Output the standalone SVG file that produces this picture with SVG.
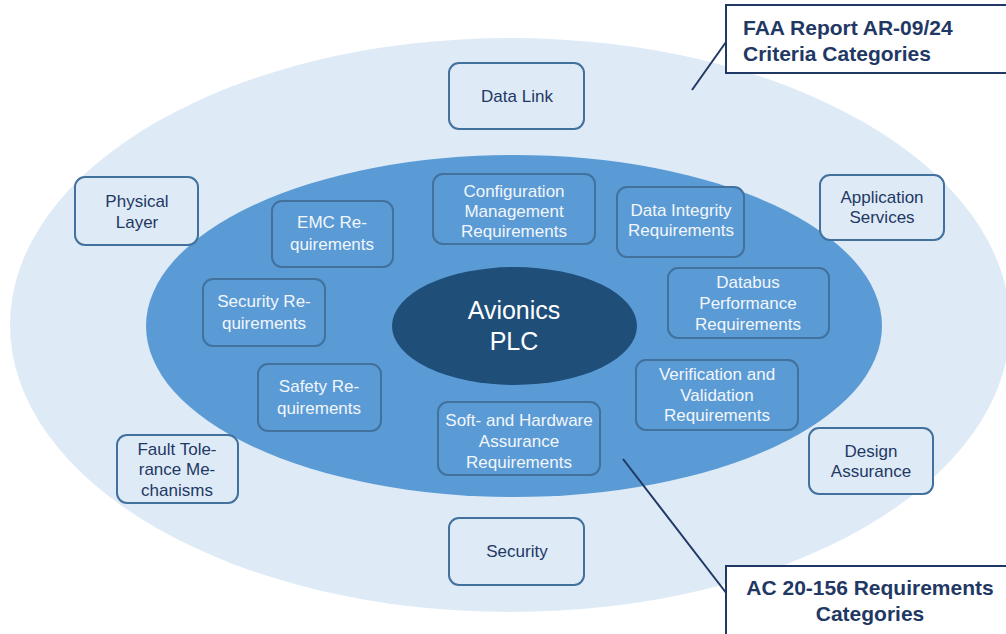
<svg xmlns="http://www.w3.org/2000/svg" width="1006" height="634" viewBox="0 0 1006 634">
  <style>
    text { font-family: "Liberation Sans", Arial, sans-serif; text-anchor: middle; }
    .outer rect { fill: #DEEBF7; stroke: #41719C; stroke-width: 2; }
    .outer text { fill: #1F3864; font-size: 17px; }
    .inner rect { fill: #5B9BD5; stroke: #41719C; stroke-width: 2; }
    .inner text { fill: #F2F6FB; font-size: 17px; }
    .label rect { fill: #FFFFFF; stroke: #1F3864; stroke-width: 2; }
    .label text { fill: #1F3864; font-size: 21px; font-weight: bold; }
    .leader { stroke: #1F3864; stroke-width: 2; fill: none; }
  </style>

  <rect width="1006" height="634" fill="#FFFFFF"/>

  <!-- ring backgrounds -->
  <ellipse id="ring-outer" cx="510" cy="325" rx="500" ry="287" fill="#DEEBF7"/>
  <ellipse id="ring-inner" cx="514" cy="326" rx="368" ry="171" fill="#5B9BD5"/>

  <!-- core -->
  <g id="core">
    <ellipse cx="514.5" cy="326" rx="122.5" ry="59" fill="#1F4E79"/>
    <text x="514" y="319" font-size="25" fill="#FFFFFF">Avionics</text>
    <text x="514" y="350" font-size="25" fill="#FFFFFF">PLC</text>
  </g>

  <!-- FAA AR-09/24 criteria categories (outer ring) -->
  <g id="data-link" class="outer">
    <rect x="449" y="63" width="135" height="66" rx="10"/>
    <text x="517" y="102">Data Link</text>
  </g>
  <g id="physical-layer" class="outer">
    <rect x="75" y="177" width="123" height="68" rx="10"/>
    <text x="137" y="207">Physical</text>
    <text x="137" y="228">Layer</text>
  </g>
  <g id="application-services" class="outer">
    <rect x="820" y="175" width="124" height="65" rx="10"/>
    <text x="882" y="203">Application</text>
    <text x="882" y="223">Services</text>
  </g>
  <g id="fault-tolerance" class="outer">
    <rect x="117" y="435" width="121" height="68" rx="10"/>
    <text x="177" y="455">Fault Tole-</text>
    <text x="177" y="475">rance Me-</text>
    <text x="177" y="496">chanisms</text>
  </g>
  <g id="design-assurance" class="outer">
    <rect x="809" y="428" width="124" height="66" rx="10"/>
    <text x="871" y="457">Design</text>
    <text x="871" y="477">Assurance</text>
  </g>
  <g id="security" class="outer">
    <rect x="449" y="518" width="135" height="67" rx="10"/>
    <text x="517" y="557">Security</text>
  </g>

  <!-- AC 20-156 requirements categories (inner ring) -->
  <g id="configuration-management" class="inner">
    <rect x="433" y="174" width="162" height="70" rx="10"/>
    <text x="514" y="197">Configuration</text>
    <text x="514" y="217">Management</text>
    <text x="514" y="237">Requirements</text>
  </g>
  <g id="data-integrity" class="inner">
    <rect x="617" y="187" width="127" height="70" rx="10"/>
    <text x="681" y="216">Data Integrity</text>
    <text x="681" y="236">Requirements</text>
  </g>
  <g id="emc" class="inner">
    <rect x="272" y="201" width="121" height="66" rx="10"/>
    <text x="332" y="228">EMC Re-</text>
    <text x="332" y="250">quirements</text>
  </g>
  <g id="security-requirements" class="inner">
    <rect x="203" y="279" width="122" height="67" rx="10"/>
    <text x="264" y="307">Security Re-</text>
    <text x="264" y="329">quirements</text>
  </g>
  <g id="databus-performance" class="inner">
    <rect x="668" y="268" width="161" height="70" rx="10"/>
    <text x="748" y="288">Databus</text>
    <text x="748" y="309">Performance</text>
    <text x="748" y="330">Requirements</text>
  </g>
  <g id="safety" class="inner">
    <rect x="258" y="364" width="123" height="67" rx="10"/>
    <text x="319" y="392">Safety Re-</text>
    <text x="319" y="414">quirements</text>
  </g>
  <g id="verification-validation" class="inner">
    <rect x="636" y="360" width="162" height="70" rx="10"/>
    <text x="717" y="380">Verification and</text>
    <text x="717" y="401">Validation</text>
    <text x="717" y="421">Requirements</text>
  </g>
  <g id="assurance" class="inner">
    <rect x="438" y="402" width="162" height="73" rx="10"/>
    <text x="519" y="426">Soft- and Hardware</text>
    <text x="519" y="447">Assurance</text>
    <text x="519" y="468">Requirements</text>
  </g>

  <!-- leader lines -->
  <g id="connectors">
    <line class="leader" x1="692" y1="90" x2="726" y2="42"/>
    <line class="leader" x1="623" y1="459" x2="727" y2="594"/>
  </g>

  <!-- callouts -->
  <g id="faa-label" class="label">
    <rect x="726" y="5" width="292" height="68"/>
    <text x="743" y="35" style="text-anchor:start">FAA Report AR-09/24</text>
    <text x="743" y="61" style="text-anchor:start">Criteria Categories</text>
  </g>
  <g id="ac-label" class="label">
    <rect x="726" y="566" width="292" height="72"/>
    <text x="870" y="595">AC 20-156 Requirements</text>
    <text x="870" y="621">Categories</text>
  </g>
</svg>
